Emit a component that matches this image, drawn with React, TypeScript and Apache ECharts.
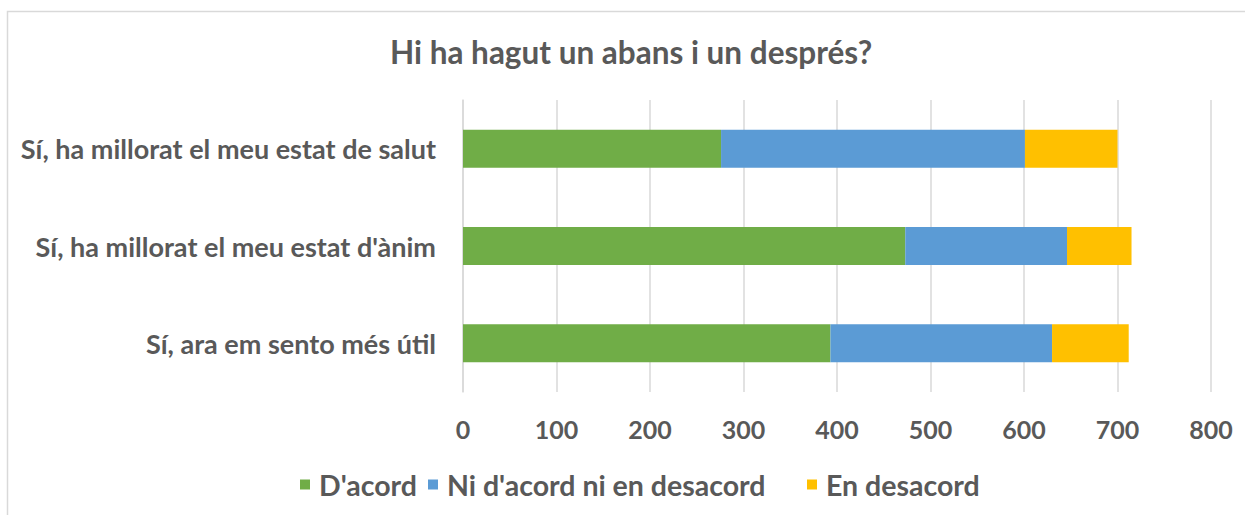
import React, { useEffect, useRef } from "react";
import * as echarts from "echarts";

const categories = [
  "Sí, ha millorat el meu estat de salut",
  "Sí, ha millorat el meu estat d'ànim",
  "Sí, ara em sento més útil",
];
const seriesNames = ["D'acord", "Ni d'acord ni en desacord", "En desacord"];
const acord = [276, 473, 393];
const niAcord = [325, 173, 237];
const desacord = [99, 69, 82];
const colors = ["#70AD47", "#5B9BD5", "#FFC000"];
const titleText = "Hi ha hagut un abans i un després?";

const FONT = "Lato";
const TXT = "#595959";

export default function App() {
  const ref = useRef<HTMLDivElement>(null);
  useEffect(() => {
    if (!ref.current) return;
    const chart = echarts.init(ref.current, null, { renderer: "svg" });
    const values = [acord, niAcord, desacord];
    const legendLefts = [295, 423, 802];
    chart.setOption({
      animation: false,
      backgroundColor: "#ffffff",
      title: {
        text: titleText,
        left: 385,
        top: 31,
        textStyle: { fontFamily: FONT, fontWeight: "bold", fontSize: 31.5, color: TXT },
      },
      graphic: [
        {
          type: "rect",
          shape: { x: 7.5, y: 11.5, width: 1400, height: 700 },
          style: { fill: "none", stroke: "#d9d9d9", lineWidth: 1.5 },
          silent: true,
        },
      ],
      legend: seriesNames.map((n, i) => ({
        data: [n],
        left: legendLefts[i],
        top: 465,
        icon: "rect",
        itemWidth: 10,
        itemHeight: 10,
        itemGap: 8,
        textStyle: { fontFamily: FONT, fontWeight: "bold", fontSize: 28.5, color: TXT, padding: [0, 0, 0, 4] },
      })),
      grid: { left: 463, right: 34, top: 100, bottom: 123, containLabel: false },
      xAxis: {
        type: "value",
        min: 0,
        max: 800,
        interval: 100,
        axisLine: { show: false },
        axisTick: { show: false },
        splitLine: { show: true, lineStyle: { color: "#d9d9d9", width: 1.5 } },
        axisLabel: { fontFamily: FONT, fontWeight: "bold", fontSize: 25, color: TXT, margin: 24 },
      },
      yAxis: {
        type: "category",
        data: categories,
        inverse: true,
        axisLine: { show: true, lineStyle: { color: "#d9d9d9", width: 1.5 } },
        axisTick: { show: false },
        axisLabel: { fontFamily: FONT, fontWeight: "bold", fontSize: 27, color: TXT, margin: 27 },
      },
      series: seriesNames.map((n, i) => ({
        name: n,
        type: "bar",
        stack: "total",
        barWidth: 38,
        data: values[i],
        itemStyle: { color: colors[i] },
      })),
    });
    return () => chart.dispose();
  }, []);
  return (
    <div
      ref={ref}
      style={{ position: "fixed", left: 0, top: 0, width: 1245, height: 515 }}
    />
  );
}
